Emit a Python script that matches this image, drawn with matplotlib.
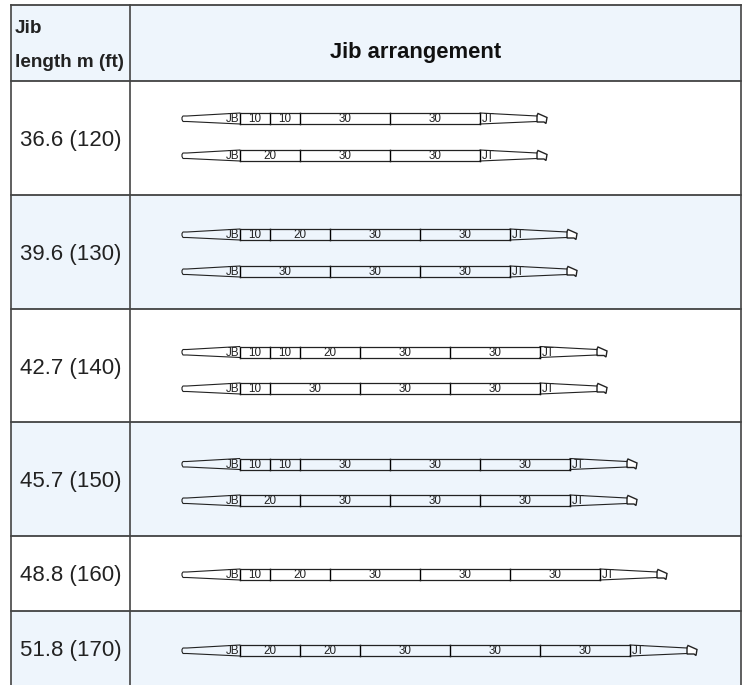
import matplotlib
matplotlib.use('Agg')
import matplotlib.pyplot as plt
from matplotlib.patches import Polygon, Rectangle

plt.rcParams['font.family'] = ['Liberation Sans', 'DejaVu Sans']

# Table contents
row_labels = ['36.6 (120)', '39.6 (130)', '42.7 (140)', '45.7 (150)', '48.8 (160)', '51.8 (170)']
row_sections = [
    [[10, 10, 30, 30], [20, 30, 30]],
    [[10, 20, 30, 30], [30, 30, 30]],
    [[10, 10, 20, 30, 30], [10, 30, 30, 30]],
    [[10, 10, 30, 30, 30], [20, 30, 30, 30]],
    [[10, 20, 30, 30, 30]],
    [[20, 20, 30, 30, 30]],
]
row_edges = [81, 195, 309, 422, 536, 611, 690]
row_jib_y = [[118.5, 155.5], [234.5, 271.5], [352, 388.5], [464, 500.5], [574.5], [650.5]]

# Layout in pixels, y going down
left, mid, right, top = 11, 130, 741, 5
px_per_ft = 3.0
root_x, base_x = 182, 240
shade = '#eef5fc'
ink = '#222222'
small = 8.4


def draw_jib(ax, sections, y):
    # root section, tapered with rounded end
    root = [(base_x, y - 5.5), (187, y - 2.5), (183, y - 2.5), (182, y - 1), (182, y + 1),
            (183, y + 3), (187, y + 3), (base_x, y + 5.5)]
    ax.add_patch(Polygon(root, closed=False, fill=False, ec=ink, lw=0.8))
    ax.text(base_x - 1, y + 0.5, 'JB', ha='right', va='center', fontsize=small, color=ink)

    # straight sections between the root and the tip
    x = base_x
    ax.plot([x, x], [y - 5.5, y + 5.5], color='black', lw=1)
    for s in sections:
        w = s * px_per_ft
        ax.plot([x, x + w], [y - 5.5, y - 5.5], color=ink, lw=0.9)
        ax.plot([x, x + w], [y + 5.5, y + 5.5], color=ink, lw=0.9)
        ax.plot([x + w, x + w], [y - 5.5, y + 5.5], color='black', lw=1)
        ax.text(x + w / 2, y + 0.5, str(s), ha='center', va='center', fontsize=small, color=ink)
        x += w

    # tip section and head
    ax.plot([x, x + 57], [y - 5.5, y - 2.5], color=ink, lw=0.8)
    ax.plot([x, x + 57], [y + 5.5, y + 3], color=ink, lw=0.8)
    ax.text(x + 8, y + 0.5, 'JT', ha='center', va='center', fontsize=small, color=ink)
    head = [(x + 57, y - 3), (x + 58, y - 5), (x + 67, y - 1), (x + 66, y + 5),
            (x + 64, y + 3.5), (x + 57, y + 3.5)]
    ax.add_patch(Polygon(head, closed=True, fc='white', ec=ink, lw=1))


fig = plt.figure(figsize=(7.45, 6.85), dpi=100)
ax = fig.add_axes([0, 0, 1, 1])
ax.set_xlim(0, 745)
ax.set_ylim(685, 0)
ax.axis('off')

# header and alternating row shading
ax.add_patch(Rectangle((left, top), mid - left, row_edges[0] - top, fc=shade, ec='none'))
ax.add_patch(Rectangle((mid, top), right - mid, row_edges[0] - top, fc=shade, ec='none'))
for i in range(len(row_labels)):
    if i % 2 == 1:
        ax.add_patch(Rectangle((left, row_edges[i]), right - left, row_edges[i + 1] - row_edges[i],
                               fc=shade, ec='none'))

# grid lines
ax.plot([left, right], [top, top], color='#333333', lw=1.2)
for e in row_edges[:-1]:
    ax.plot([left, right], [e, e], color='#222222', lw=1.1)
for x in [left, mid, right]:
    ax.plot([x, x], [top, 685], color='#444444', lw=1.2)

# header text
ax.text(15, 28, 'Jib', ha='left', va='center', fontsize=13.6, fontweight='bold', color=ink)
ax.text(15, 62, 'length m (ft)', ha='left', va='center', fontsize=13.6, fontweight='bold', color=ink)
ax.text(416, 52, 'Jib arrangement', ha='center', va='center', fontsize=15.8, fontweight='bold', color='#111111')

for i, label in enumerate(row_labels):
    y_label = (row_edges[i] + min(row_edges[i + 1], 685)) / 2 + 2.5
    ax.text(71, y_label, label, ha='center', va='center', fontsize=16, color=ink)
    for sections, y in zip(row_sections[i], row_jib_y[i]):
        draw_jib(ax, sections, y)

fig.savefig('out.png', dpi=100)
